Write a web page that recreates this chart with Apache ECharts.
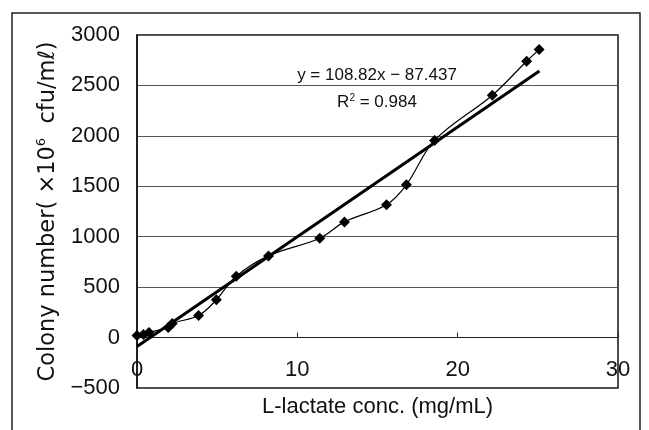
<!DOCTYPE html>
<html>
<head>
<meta charset="utf-8">
<script src="https://cdn.jsdelivr.net/npm/echarts@6/dist/echarts.min.js"></script>
<style>
  html, body { margin: 0; padding: 0; background: #fff; }
  #chart { width: 649px; height: 430px; }
</style>
</head>
<body>
<div id="chart"></div>
<script>
// Measured colony counts against L-lactate concentration
const lactateConc = [0, 0.4, 0.75, 1.95, 2.2, 3.84, 4.95, 6.19, 8.2, 11.4, 12.94, 15.56, 16.8, 18.56, 22.16, 24.3, 25.08];
const colonyCount = [20, 30, 50, 100, 140, 218, 375, 608, 810, 985, 1147, 1318, 1515, 1955, 2403, 2740, 2855];

// Linear fit reported on the chart
const fitSlope = 108.82;
const fitIntercept = -87.437;
const fitR2 = 0.984;
const fitXRange = [0, 25.1];

// Axis ranges: [min, max, step]
const xRange = [0, 30, 10];
const yRange = [-500, 3000, 500];

const points = lactateConc.map((x, i) => [x, colonyCount[i]]);
const fitLine = fitXRange.map(x => [x, fitSlope * x + fitIntercept]);

const chart = echarts.init(document.getElementById('chart'), null, { renderer: 'canvas' });

const labelFont = 'Liberation Sans, Arial, sans-serif';

chart.setOption({
  animation: false,
  backgroundColor: '#fff',
  grid: {
    left: 137, right: 31, top: 35, bottom: 42,
    containLabel: false,
    outerBoundsMode: 'none',
    show: true, borderColor: '#111', borderWidth: 1.5, backgroundColor: 'transparent'
  },
  xAxis: {
    type: 'value',
    min: xRange[0], max: xRange[1], interval: xRange[2],
    axisLine: { show: true, onZero: true, lineStyle: { color: '#222', width: 1 } },
    axisTick: { show: true, inside: true, length: 5, lineStyle: { color: '#222' } },
    // labels sit just under the zero line, inside the plot frame
    axisLabel: { color: '#111', fontSize: 22, fontFamily: labelFont, margin: -29 },
    splitLine: { show: false },
    name: 'L-lactate conc. (mg/mL)',
    nameLocation: 'middle',
    nameGap: 8,
    nameTextStyle: { color: '#111', fontSize: 22, fontFamily: labelFont }
  },
  yAxis: {
    type: 'value',
    min: yRange[0], max: yRange[1], interval: yRange[2],
    axisLine: { show: true, onZero: false, lineStyle: { color: '#111', width: 1.5 } },
    axisTick: { show: false },
    axisLabel: {
      color: '#111', fontSize: 22, fontFamily: labelFont, margin: 17,
      formatter: v => String(v).replace('-', '\u2212')
    },
    splitLine: { show: true, lineStyle: { color: '#555', width: 1 } },
    name: 'Colony number( \u00d710{sup|6}  cfu/m\u2113)',
    nameLocation: 'middle',
    nameGap: 74,
    nameRotate: 90,
    nameTextStyle: {
      color: '#111', fontSize: 22.5, fontFamily: 'DejaVu Sans, sans-serif',
      rich: {
        sup: { fontSize: 13, fontFamily: 'DejaVu Sans, sans-serif', color: '#111', verticalAlign: 'top', padding: [0, 0, 12, 0] }
      }
    }
  },
  graphic: [
    {
      type: 'rect', silent: true, z: 0,
      shape: { x: 12, y: 13, width: 628, height: 440 },
      style: { fill: 'none', stroke: '#222', lineWidth: 1.5 }
    },
    {
      type: 'text', silent: true, z: 10,
      x: 377, y: 75,
      style: {
        text: 'y = ' + fitSlope + 'x \u2212 ' + Math.abs(fitIntercept),
        fill: '#111', font: '17px ' + labelFont, align: 'center', verticalAlign: 'middle'
      }
    },
    {
      type: 'text', silent: true, z: 10,
      x: 377, y: 102,
      style: {
        text: '{r|R}{s|2}{r| = ' + fitR2 + '}',
        fill: '#111', align: 'center', verticalAlign: 'middle',
        rich: {
          r: { fontSize: 17, fontFamily: labelFont, fill: '#111' },
          s: { fontSize: 10, fontFamily: labelFont, fill: '#111', verticalAlign: 'top', padding: [0, 0, 8, 0] }
        }
      }
    }
  ],
  series: [
    {
      name: 'fit',
      type: 'line',
      data: fitLine,
      symbol: 'none',
      lineStyle: { color: '#000', width: 3 },
      z: 3
    },
    {
      name: 'colony',
      type: 'line',
      data: points,
      smooth: 0.35,
      symbol: 'diamond',
      symbolSize: 11,
      itemStyle: { color: '#000' },
      lineStyle: { color: '#000', width: 1.2 },
      z: 4
    }
  ]
});
</script>
</body>
</html>
